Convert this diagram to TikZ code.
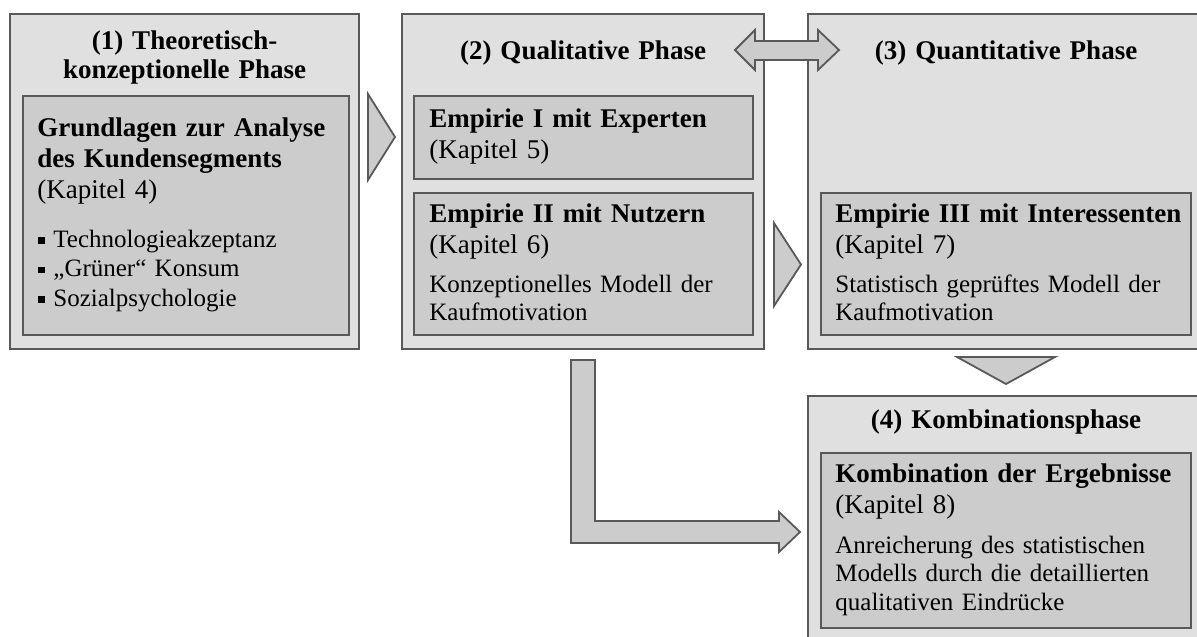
\documentclass[tikz,border=0pt]{standalone}
\usepackage{fontspec}
\setmainfont{Liberation Serif}
\usetikzlibrary{fit}
\definecolor{phasefill}{RGB}{224,224,224}
\definecolor{stepfill}{RGB}{204,204,204}
\definecolor{edgegray}{RGB}{89,89,89}
\newcommand{\sqbullet}{\makebox[7.5pt][l]{\rule[1.5pt]{3.5pt}{3.5pt}}}
\tikzset{
  phasebox/.style={draw=edgegray, fill=phasefill, line width=0.9pt, inner sep=0pt},
  stepbox/.style={draw=edgegray, fill=stepfill, line width=0.9pt, inner sep=0pt},
  blockarrow/.style={draw=edgegray, fill=stepfill, line width=0.9pt, line join=miter},
  phasetitle/.style={anchor=base, text width=170pt, align=center, inner sep=0pt,
    font=\fontsize{13.5pt}{14.5pt}\selectfont\bfseries},
  stephead/.style={anchor=base west, text width=180pt, align=left, inner sep=0pt,
    font=\fontsize{13.5pt}{15.5pt}\selectfont},
  stepdesc/.style={anchor=base west, text width=180pt, align=left, inner sep=0pt,
    font=\fontsize{12.5pt}{14.25pt}\selectfont},
}
\begin{document}
\begin{tikzpicture}[x=0.5pt,y=-0.5pt]
\useasboundingbox (0,0) rectangle (1197,636);
\clip (0,0) rectangle (1197,636);

% phase frames
\node[phasebox, fit={(10,14) (359,349)}] (p1) {};
\node[phasebox, fit={(402,14) (764,349)}] (p2) {};
\node[phasebox, fit={(808,14) (1204,349)}] (p3) {};
\node[phasebox, fit={(808,396) (1204,660)}] (p4) {};

% steps inside the phases
\node[stepbox, fit={(23,96) (349,335)}] (s1) {};
\node[stepbox, fit={(414,96) (753,179)}] (s2) {};
\node[stepbox, fit={(414,193) (753,335)}] (s3) {};
\node[stepbox, fit={(821,193) (1191,335)}] (s4) {};
\node[stepbox, fit={(821,453) (1191,628)}] (s5) {};

% phase titles
\node[phasetitle] (t1) at (184.5,50) {(1) Theoretisch-\\konzeptionelle Phase};
\node[phasetitle] (t2) at (583,60) {(2) Qualitative Phase};
\node[phasetitle] (t3) at (1006,60) {(3) Quantitative Phase};
\node[phasetitle] (t4) at (1006,428) {(4) Kombinationsphase};

% step headings
\node[stephead] (h1) at (37,137) {\textbf{Grundlagen zur Analyse}\\\textbf{des Kundensegments}\\(Kapitel 4)};
\node[stephead] (h2) at (429,128) {\textbf{Empirie I mit Experten}\\(Kapitel 5)};
\node[stephead] (h3) at (429,222) {\textbf{Empirie II mit Nutzern}\\(Kapitel 6)};
\node[stephead] (h4) at (835,222) {\textbf{Empirie III mit Interessenten}\\(Kapitel 7)};
\node[stephead] (h5) at (835,482) {\textbf{Kombination der Ergebnisse}\\(Kapitel 8)};

% step descriptions
\node[stepdesc, font=\fontsize{12.5pt}{14.75pt}\selectfont] (d1) at (38,247)
  {\sqbullet Technologieakzeptanz\\\sqbullet „Grüner“ Konsum\\\sqbullet Sozialpsychologie};
\node[stepdesc] (d3) at (429,292) {Konzeptionelles Modell der\\Kaufmotivation};
\node[stepdesc] (d4) at (835,292) {Statistisch geprüftes Modell der\\Kaufmotivation};
\node[stepdesc] (d5) at (835,553) {Anreicherung des statistischen\\Modells durch die detaillierten\\qualitativen Eindrücke};

% flow arrows
\draw[blockarrow] (368,94) -- (395,137) -- (368,180) -- cycle;
\draw[blockarrow] (774,223) -- (801,264.5) -- (774,306) -- cycle;
\draw[blockarrow] (957,357) -- (1055,357) -- (1006,384) -- cycle;
\draw[blockarrow] (735,50) -- (755,30) -- (755,41) -- (818,41) -- (818,30) -- (839,50)
  -- (818,70) -- (818,60) -- (755,60) -- (755,70) -- cycle;
\draw[blockarrow] (571,360) -- (595,360) -- (595,521) -- (779,521) -- (779,512)
  -- (800,532) -- (779,552) -- (779,543) -- (571,543) -- cycle;
\end{tikzpicture}
\end{document}
